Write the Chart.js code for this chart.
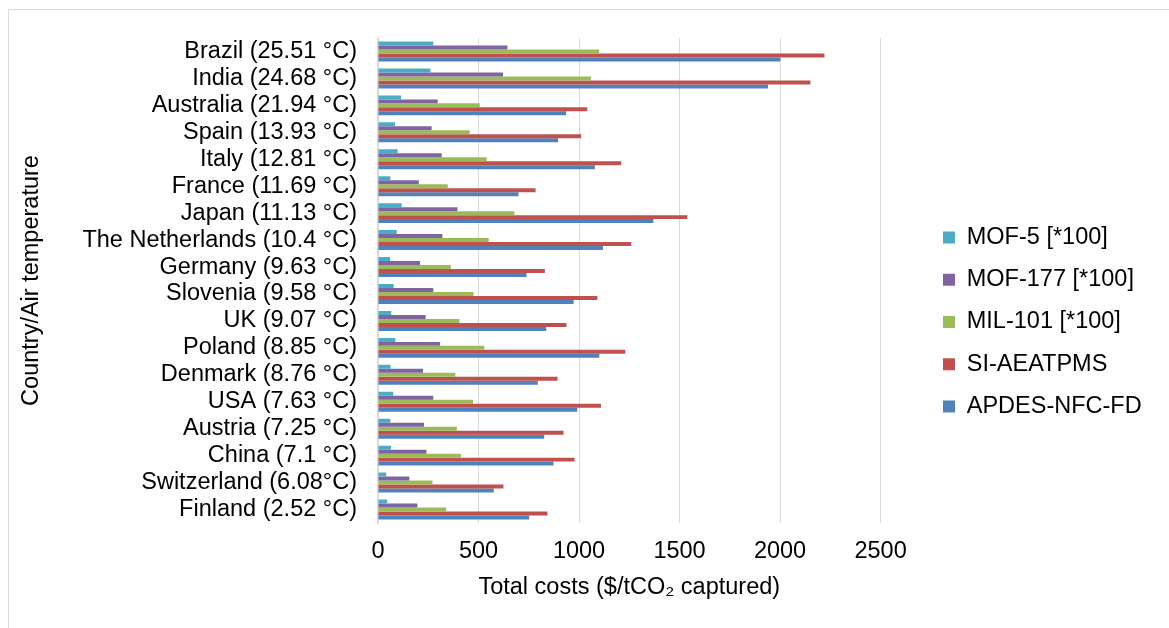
<!DOCTYPE html>
<html>
<head>
<meta charset="utf-8">
<script src="https://cdn.jsdelivr.net/npm/chart.js@4.4.1/dist/chart.umd.min.js"></script>
<style>
  body { margin: 0; background: #fff; }
  #wrap { position: relative; width: 1169px; height: 628px; overflow: hidden; }
  #frame { position: absolute; left: 8px; top: 9px; width: 1400px; height: 900px;
           border-left: 1px solid #d9d9d9; border-top: 1px solid #d9d9d9; }
  canvas { position: absolute; left: 0; top: 0; }
</style>
</head>
<body>
<div id="wrap">
  <div id="frame"></div>
  <canvas id="chart" width="1169" height="628"></canvas>
</div>
<script>
// Pays (température de l'air)
const countries = [
  'Brazil (25.51 °C)', 'India (24.68 °C)', 'Australia (21.94 °C)', 'Spain (13.93 °C)',
  'Italy (12.81 °C)', 'France (11.69 °C)', 'Japan (11.13 °C)', 'The Netherlands (10.4 °C)',
  'Germany (9.63 °C)', 'Slovenia (9.58 °C)', 'UK (9.07 °C)', 'Poland (8.85 °C)',
  'Denmark (8.76 °C)', 'USA (7.63 °C)', 'Austria (7.25 °C)', 'China (7.1 °C)',
  'Switzerland (6.08°C)', 'Finland (2.52 °C)'
];

// Coûts totaux par adsorbant
const mof5 = [275, 261, 115, 85, 98, 61, 118, 93, 60, 78, 66, 86, 63, 76, 61, 65, 41, 46];
const mof177 = [644, 622, 297, 267, 317, 203, 395, 320, 209, 275, 237, 309, 224, 275, 229, 241, 156, 196];
const mil101 = [1100, 1059, 506, 456, 541, 347, 679, 551, 362, 475, 405, 529, 385, 473, 392, 413, 271, 339];
const siAeatpms = [2221, 2151, 1041, 1011, 1210, 784, 1539, 1260, 830, 1091, 938, 1230, 893, 1109, 923, 978, 624, 843];
const apdes = [2002, 1940, 936, 896, 1079, 699, 1370, 1119, 739, 973, 837, 1101, 795, 991, 827, 873, 576, 752];

const xTicks = [0, 500, 1000, 1500, 2000, 2500];

const FONT = { family: '"Liberation Sans", Arial, sans-serif', size: 23.5 };
const LEGEND_BOX_X = 943; // bord gauche des carrés de la légende

// Déplace la légende horizontalement (Chart.js la colle au graphique)
const legendShift = {
  id: 'legendShift',
  afterLayout(chart) {
    const lg = chart.legend;
    const dx = LEGEND_BOX_X - (lg.left + lg.options.labels.padding);
    lg.left += dx;
    lg.right += dx;
  }
};

const ctx = document.getElementById('chart').getContext('2d');
const chart = new Chart(ctx, {
  type: 'bar',
  data: {
    labels: countries,
    datasets: [
      { label: 'MOF-5 [*100]', data: mof5, backgroundColor: '#4BACC6' },
      { label: 'MOF-177 [*100]', data: mof177, backgroundColor: '#8064A2' },
      { label: 'MIL-101 [*100]', data: mil101, backgroundColor: '#9BBB59' },
      { label: 'SI-AEATPMS', data: siAeatpms, backgroundColor: '#C0504D' },
      { label: 'APDES-NFC-FD', data: apdes, backgroundColor: '#4F81BD' }
    ]
  },
  options: {
    indexAxis: 'y',
    responsive: false,
    animation: false,
    datasets: { bar: { categoryPercentage: 0.74, barPercentage: 1.0 } },
    layout: { padding: { left: 8, right: 61, top: 38, bottom: 22 } },
    plugins: {
      legend: {
        position: 'right',
        labels: { font: FONT, color: '#000', boxWidth: 12, boxHeight: 12, padding: 18.75 }
      },
      tooltip: { enabled: false }
    },
    scales: {
      x: {
        min: 0,
        max: 2500,
        afterBuildTicks: (scale) => { scale.ticks = xTicks.map(v => ({ value: v })); },
        afterFit: (scale) => { scale.height = 83; },
        grid: { color: '#d9d9d9', lineWidth: 1, drawTicks: false },
        border: { display: false },
        ticks: { font: FONT, color: '#000', padding: 14, callback: (v) => String(v) },
        title: {
          display: true,
          text: 'Total costs ($/tCO₂ captured)',
          font: FONT,
          color: '#000',
          padding: { top: 0, bottom: 4 }
        }
      },
      y: {
        afterFit: (scale) => { scale.width = 370; },
        grid: { display: false, drawTicks: false },
        border: { display: true, color: '#d9d9d9', width: 1.5 },
        ticks: { font: FONT, color: '#000', padding: 21, autoSkip: false },
        title: {
          display: true,
          text: 'Country/Air temperature',
          font: FONT,
          color: '#000',
          padding: { top: 9, bottom: 0 }
        }
      }
    }
  },
  plugins: [legendShift]
});
</script>
</body>
</html>
